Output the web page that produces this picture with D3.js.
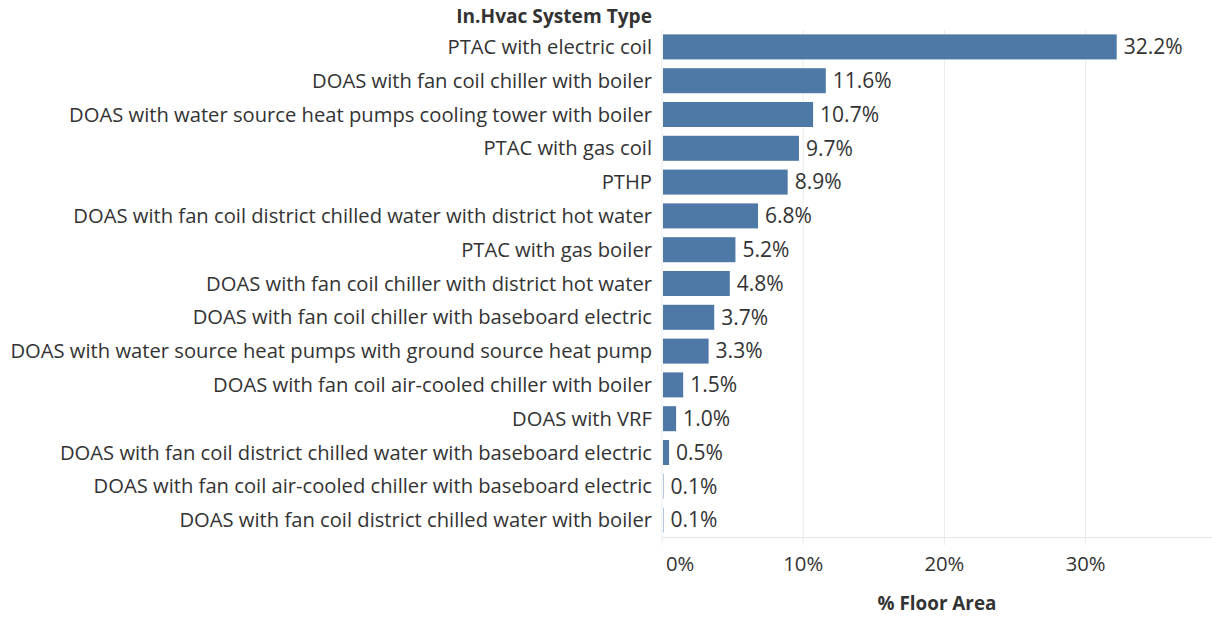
<!DOCTYPE html>
<html><head><meta charset="utf-8">
<script src="https://cdn.jsdelivr.net/npm/d3@7"></script>
<style>body{margin:0;background:#fff}svg{display:block}</style>
</head><body>
<svg id="c" width="1212" height="617"></svg>
<script>
const categories = [
  "PTAC with electric coil",
  "DOAS with fan coil chiller with boiler",
  "DOAS with water source heat pumps cooling tower with boiler",
  "PTAC with gas coil",
  "PTHP",
  "DOAS with fan coil district chilled water with district hot water",
  "PTAC with gas boiler",
  "DOAS with fan coil chiller with district hot water",
  "DOAS with fan coil chiller with baseboard electric",
  "DOAS with water source heat pumps with ground source heat pump",
  "DOAS with fan coil air-cooled chiller with boiler",
  "DOAS with VRF",
  "DOAS with fan coil district chilled water with baseboard electric",
  "DOAS with fan coil air-cooled chiller with baseboard electric",
  "DOAS with fan coil district chilled water with boiler"
];
const values = [32.2, 11.6, 10.7, 9.7, 8.9, 6.8, 5.2, 4.8, 3.7, 3.3, 1.5, 1.0, 0.5, 0.1, 0.1];
const tickValues = [0, 10, 20, 30];
const rowHeader = "In.Hvac System Type";
const axisTitle = "% Floor Area";

(function () {
const svg = d3.select("#c");
const font = "'Open Sans', sans-serif";
const textColor = "#333";
const xStart = 662, xEnd = 1212, plotTop = 30, plotBottom = 537;

// scale a text selection's font-size so the widest element matches target width
function fitWidth(sel, target) {
  let maxW = 0;
  sel.each(function () { maxW = Math.max(maxW, this.getComputedTextLength()); });
  const fs = parseFloat(sel.attr("font-size"));
  sel.attr("font-size", fs * target / maxW);
}

const x = d3.scaleLinear().domain([0, 38.95]).range([xStart, xEnd]);
const y = d3.scaleBand().domain(categories).range([plotTop, plotBottom]).paddingInner(0.26).paddingOuter(0.13);

// gridlines
svg.append("g").selectAll("line").data(tickValues).join("line")
  .attr("x1", d => x(d)).attr("x2", d => x(d))
  .attr("y1", plotTop).attr("y2", 545)
  .attr("stroke", "#ebebeb").attr("stroke-width", 1);
svg.append("line").attr("x1", xStart).attr("x2", xEnd).attr("y1", plotBottom + 0.5).attr("y2", plotBottom + 0.5)
  .attr("stroke", "#e6e6e6");

// bars
svg.append("g").selectAll("rect").data(values).join("rect")
  .attr("x", x(0) + 1).attr("y", (d, i) => y(categories[i]))
  .attr("width", d => Math.max(0, x(d) - x(0) - 1)).attr("height", y.bandwidth())
  .attr("fill", "#4e79a7");

// value labels
const vl = svg.append("g").selectAll("text").data(values).join("text")
  .attr("x", d => x(d) + 7).attr("y", (d, i) => y(categories[i]) + y.bandwidth() / 2)
  .attr("dy", "0.35em").attr("font-family", font).attr("font-size", 17).attr("fill", textColor)
  .text(d => d.toFixed(1) + "%");
fitWidth(vl.filter((d, i) => i === 0), 59);
vl.attr("font-size", vl.filter((d, i) => i === 0).attr("font-size"));

// category labels
const cl = svg.append("g").selectAll("text").data(categories).join("text")
  .attr("x", 652).attr("y", d => y(d) + y.bandwidth() / 2)
  .attr("dy", "0.35em").attr("text-anchor", "end")
  .attr("font-family", font).attr("font-size", 17).attr("fill", textColor)
  .text(d => d);
fitWidth(cl, 642);

// header
const hd = svg.append("text").attr("x", 652).attr("y", 16).attr("dy", "0.35em").attr("text-anchor", "end")
  .attr("font-family", font).attr("font-size", 16).attr("font-weight", "bold").attr("fill", textColor)
  .text(rowHeader);
fitWidth(hd, 196);

// x tick labels
const tl = svg.append("g").selectAll("text").data(tickValues).join("text")
  .attr("x", d => d === 0 ? x(d) + 4 : x(d)).attr("y", 564).attr("dy", "0.35em")
  .attr("text-anchor", d => d === 0 ? "start" : "middle")
  .attr("font-family", font).attr("font-size", 17).attr("fill", textColor)
  .text(d => d + "%");
fitWidth(tl.filter(d => d === 10), 40);
tl.attr("font-size", tl.filter(d => d === 10).attr("font-size"));

const at = svg.append("text").attr("x", 937).attr("y", 603).attr("dy", "0.35em").attr("text-anchor", "middle")
  .attr("font-family", font).attr("font-size", 16).attr("font-weight", "bold").attr("fill", textColor)
  .text(axisTitle);
fitWidth(at, 119);
})();
</script>
</body></html>
